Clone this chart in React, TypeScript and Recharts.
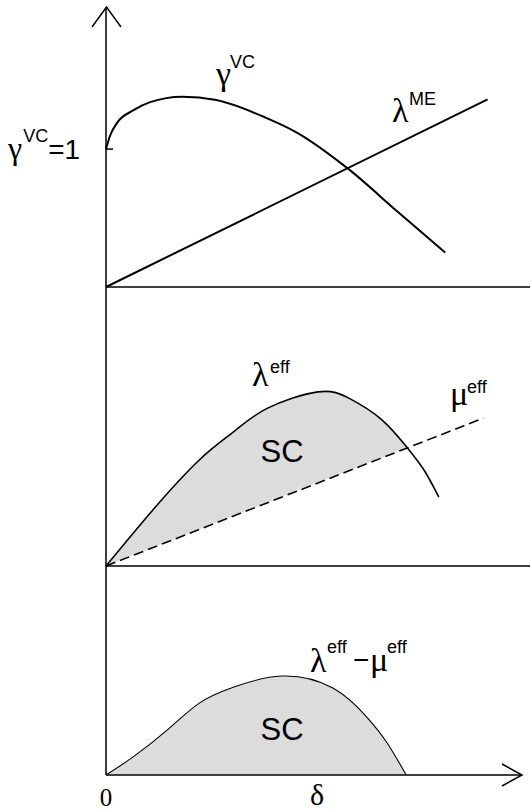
import React from 'react';
import { ComposedChart, Line, Area, XAxis, YAxis } from 'recharts';

// top panel: gamma^VC(delta) and lambda^ME(delta)
const gammaDelta = [0, 0.1, 0.26, 0.64, 1.04, 1.8, 2.6, 3.75, 4.5, 5.7, 6.9, 8.0];
const gammaVC = [1.0, 1.1, 1.19, 1.28, 1.34, 1.38, 1.355, 1.23, 1.12, 0.86, 0.54, 0.25];
const meDelta = [0, 9.0];
const lambdaME = [0, 1.36];

// middle panel: lambda^eff and mu^eff
const effDelta = [0, 1.1, 2.2, 3.0, 3.8, 5.0, 5.75, 6.5, 7.1, 7.5, 7.85];
const lambdaEff = [0, 0.2, 0.38, 0.48, 0.565, 0.624, 0.6, 0.525, 0.425, 0.344, 0.247];
const muDelta = [0, 8.9];
const muEff = [0, 0.53];
// dashed line read at the same deltas, lower edge of the SC band (up to the crossing)
const muUnderEff = [0, 0.066, 0.131, 0.179, 0.227, 0.299, 0.343, 0.388, 0.425];

// bottom panel: lambda^eff - mu^eff
const diffDelta = [0, 0.64, 1.44, 2.2, 3.0, 4.15, 5.35, 6.15, 6.63, 7.08];
const diffEff = [0, 0.065, 0.161, 0.258, 0.315, 0.355, 0.312, 0.208, 0.115, 0];

const yTicks = [1];
const xTicks = [0];

const gammaData = gammaDelta.map((d, i) => ({ d, v: gammaVC[i] }));
const meData = meDelta.map((d, i) => ({ d, v: lambdaME[i] }));
const lambdaData = effDelta.map((d, i) => ({ d, v: lambdaEff[i] }));
const muData = muDelta.map((d, i) => ({ d, v: muEff[i] }));
const bandData = muUnderEff.map((lo, i) => ({ d: effDelta[i], band: [lo, lambdaEff[i]] }));
const diffData = diffDelta.map((d, i) => ({ d, v: diffEff[i] }));

const GREEK = "'Liberation Serif', 'DejaVu Serif', serif";
const SANS = "'Liberation Sans', Arial, sans-serif";
const FILL = '#dcdcdc';

const GammaTick = (props: any) => {
    const { x, y } = props;
    return (
        <g>
            <line x1={x} x2={x + 7} y1={y} y2={y} stroke="#000" strokeWidth={1.5} />
            <text x={x - 98} y={y + 10} fill="#000">
                <tspan fontFamily={GREEK} fontSize={32}>γ</tspan>
                <tspan fontFamily={SANS} fontSize={18} dx={1} dy={-17}>VC</tspan>
                <tspan fontFamily={SANS} fontSize={28} dy={17}>=1</tspan>
            </text>
        </g>
    );
};

const ZeroTick = (props: any) => {
    const { x, y } = props;
    return (
        <text x={x} y={y + 31} textAnchor="middle" fontFamily={GREEK} fontSize={25} fill="#000">
            {props.payload.value}
        </text>
    );
};

const Sym = ({ x, y, g, sup, sx, sy }: { x: number; y: number; g: string; sup: string; sx: number; sy: number }) => (
    <g fill="#000">
        <text x={x} y={y} fontFamily={GREEK} fontSize={34}>{g}</text>
        <text x={sx} y={sy} fontFamily={SANS} fontSize={18}>{sup}</text>
    </g>
);

const axisLine = { stroke: '#000', strokeWidth: 1.5 };

export default function App() {
    return (
        <div style={{ position: 'absolute', left: 0, top: 0, width: 530, height: 812, background: '#fff', overflow: 'hidden' }}>
            <div style={{ position: 'absolute', left: 0, top: 0 }}>
                <ComposedChart width={530} height={300} data={gammaData} margin={{ top: 7, right: 0, left: 105, bottom: 12 }}>
                    <XAxis type="number" dataKey="d" domain={[0, 10]} height={1} tick={false} tickLine={false} axisLine={axisLine} />
                    <YAxis type="number" domain={[0, 2.03]} width={1} ticks={yTicks} tick={<GammaTick />} tickLine={false} tickSize={0} tickMargin={0} axisLine={axisLine} />
                    <Line data={gammaData} dataKey="v" type="monotone" stroke="#000" strokeWidth={2} dot={false} isAnimationActive={false} />
                    <Line data={meData} dataKey="v" type="linear" stroke="#000" strokeWidth={2} dot={false} isAnimationActive={false} />
                </ComposedChart>
            </div>
            <div style={{ position: 'absolute', left: 0, top: 280 }}>
                <ComposedChart width={530} height={300} data={lambdaData} margin={{ top: 7, right: 0, left: 105, bottom: 13 }}>
                    <XAxis type="number" dataKey="d" domain={[0, 10]} height={1} tick={false} tickLine={false} axisLine={axisLine} />
                    <YAxis type="number" domain={[0, 1]} width={1} tick={false} tickLine={false} axisLine={axisLine} />
                    <Area data={bandData} dataKey="band" type="natural" stroke="none" fill={FILL} fillOpacity={1} isAnimationActive={false} />
                    <Line data={lambdaData} dataKey="v" type="natural" stroke="#000" strokeWidth={1.6} dot={false} isAnimationActive={false} />
                    <Line data={muData} dataKey="v" type="linear" stroke="#000" strokeWidth={1.6} strokeDasharray="10 5" dot={false} isAnimationActive={false} />
                </ComposedChart>
            </div>
            <div style={{ position: 'absolute', left: 0, top: 560 }}>
                <ComposedChart width={530} height={252} data={diffData} margin={{ top: 6, right: 8, left: 105, bottom: 0 }}>
                    <XAxis type="number" dataKey="d" domain={[0, 9.81]} height={37} ticks={xTicks} tick={<ZeroTick />} tickLine={false} tickSize={0} tickMargin={0} axisLine={axisLine} />
                    <YAxis type="number" domain={[0, 0.75]} width={1} tick={false} tickLine={false} axisLine={axisLine} />
                    <Area data={diffData} dataKey="v" type="natural" stroke="#000" strokeWidth={1.1} fill={FILL} fillOpacity={1} isAnimationActive={false} />
                </ComposedChart>
            </div>
            <svg width={530} height={812} style={{ position: 'absolute', left: 0, top: 0, pointerEvents: 'none' }}>
                <polyline points="92,27 106.5,7 121,27" fill="none" stroke="#000" strokeWidth={1.5} />
                <polyline points="502,764 522,775 502,786" fill="none" stroke="#000" strokeWidth={1.5} />
                <Sym x={216} y={85} g="γ" sup="VC" sx={230} sy={68} />
                <Sym x={392} y={122} g="λ" sup="ME" sx={409} sy={105} />
                <Sym x={252} y={386} g="λ" sup="eff" sx={270} sy={373} />
                <Sym x={450} y={405} g="μ" sup="eff" sx={467} sy={393} />
                <Sym x={310} y={672} g="λ" sup="eff" sx={327} sy={653} />
                <text x={353} y={669} fontFamily={SANS} fontSize={28} fill="#000">−</text>
                <Sym x={370} y={671} g="μ" sup="eff" sx={387} sy={653} />
                <text x={282} y={462} textAnchor="middle" fontFamily={SANS} fontSize={31} fill="#000">SC</text>
                <text x={282} y={740} textAnchor="middle" fontFamily={SANS} fontSize={31} fill="#000">SC</text>
                <text x={310} y={805} fontFamily={GREEK} fontSize={30} fill="#000">δ</text>
            </svg>
        </div>
    );
}
